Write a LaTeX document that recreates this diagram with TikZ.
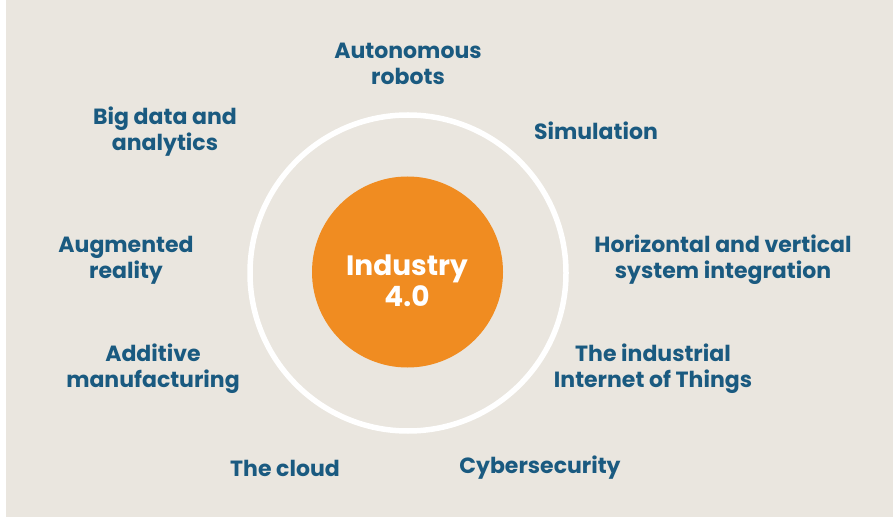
\documentclass[tikz,border=0pt]{standalone}
\usepackage{fontspec}
\setmainfont{Poppins}
\usepackage{tikz}
\usepackage{xcolor}
\usetikzlibrary{positioning}
\definecolor{iBeige}{HTML}{EAE6DF}
\definecolor{iOrange}{HTML}{F08C21}
\definecolor{iBlue}{HTML}{1A5A80}

\tikzset{
  tech/.style={iBlue, align=center, font=\bfseries\fontsize{22}{26}\selectfont},
}

\begin{document}
\begin{tikzpicture}[x=1pt, y=1pt]
    % page and backdrop
    \fill[white] (0,0) rectangle (893,517);
    \fill[iBeige] (6,0) rectangle (893,517);
    \useasboundingbox (0,0) rectangle (893,517);

    % ring and hub
    \draw[white, line width=5.5pt] (408,244) circle (158);
    \node[circle, fill=iOrange, minimum size=191pt, inner sep=0pt] (hub) at (407.5,245) {};
    \node[white, align=center, font=\bfseries\fontsize{28}{31}\selectfont] (hublabel) at (407,236) {Industry\\4.0};

    % technologies round the ring
    \node[tech] (robots)   at (408,453) {Autonomous\\robots};
    \node[tech] (sim)      at (596,386) {Simulation};
    \node[tech] (bigdata)  at (165,385) {Big data and\\analytics};
    \node[tech] (ar)       at (126,257) {Augmented\\reality};
    \node[tech] (integr)   at (723,257) {Horizontal and vertical\\system integration};
    \node[tech] (additive) at (153,148) {Additive\\manufacturing};
    \node[tech] (iiot)     at (653,148) {The industrial\\Internet of Things};
    \node[tech] (cloud)    at (285,49)  {The cloud};
    \node[tech] (cyber)    at (540,49)  {Cybersecurity};
  \end{tikzpicture}
\end{document}
